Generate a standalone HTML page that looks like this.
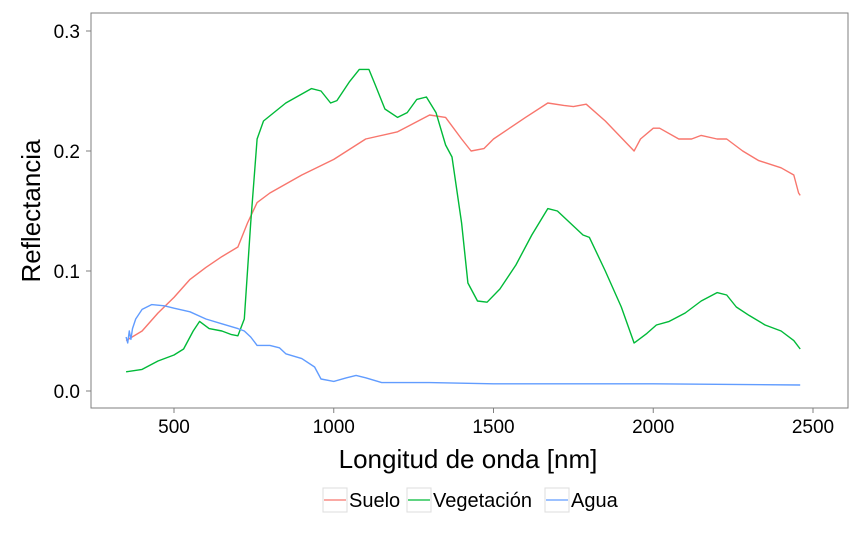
<!DOCTYPE html>
<html><head><meta charset="utf-8"><style>
body{margin:0;background:#fff;font-family:"Liberation Sans",sans-serif}
</style></head><body>
<svg id="chart" width="861" height="542" xmlns="http://www.w3.org/2000/svg" font-family="Liberation Sans, sans-serif">
<rect x="91" y="13" width="757" height="395" fill="#fff" stroke="#7f7f7f" stroke-width="1"/>
<g id="axes"></g>
<g id="series"></g>
<text x="468" y="468" font-size="26" text-anchor="middle">Longitud de onda [nm]</text>
<text transform="translate(40,211) rotate(-90)" font-size="26" text-anchor="middle">Reflectancia</text>
<g>
<g><rect x="323" y="488" width="24" height="24" fill="#fff" stroke="#ddd"/><line x1="324" y1="500" x2="346" y2="500" stroke="#F8766D" stroke-width="1.2"/><text x="349" y="507" font-size="20">Suelo</text></g>
<g><rect x="407" y="488" width="24" height="24" fill="#fff" stroke="#ddd"/><line x1="408" y1="500" x2="430" y2="500" stroke="#00BA38" stroke-width="1.2"/><text x="433" y="507" font-size="20">Vegetación</text></g>
<g><rect x="545" y="488" width="24" height="24" fill="#fff" stroke="#ddd"/><line x1="546" y1="500" x2="568" y2="500" stroke="#619CFF" stroke-width="1.2"/><text x="571" y="507" font-size="20">Agua</text></g>
</g>
</svg>
<script>
const xTicks=[500,1000,1500,2000,2500];
const yTicks=[0,0.1,0.2,0.3];
const yTickLabels=["0.0","0.1","0.2","0.3"];
const sueloX=[350,400,450,500,550,600,650,700,730,760,800,900,1000,1100,1200,1300,1350,1400,1430,1470,1500,1600,1670,1720,1750,1790,1850,1940,1960,2000,2020,2080,2120,2150,2200,2230,2280,2330,2400,2440,2455,2460];
const sueloY=[0.042,0.05,0.065,0.078,0.093,0.103,0.112,0.12,0.14,0.157,0.165,0.18,0.193,0.21,0.216,0.23,0.228,0.21,0.2,0.202,0.21,0.228,0.24,0.238,0.237,0.239,0.225,0.2,0.21,0.219,0.219,0.21,0.21,0.213,0.21,0.21,0.2,0.192,0.186,0.18,0.165,0.163];
const vegX=[350,400,450,500,530,560,580,610,650,680,700,720,740,760,780,850,930,960,990,1010,1050,1080,1110,1130,1160,1200,1230,1260,1290,1320,1350,1370,1400,1420,1450,1480,1520,1570,1620,1670,1700,1740,1780,1800,1850,1900,1940,1980,2010,2050,2100,2150,2200,2230,2260,2300,2350,2400,2440,2460];
const vegY=[0.016,0.018,0.025,0.03,0.035,0.05,0.058,0.052,0.05,0.047,0.046,0.06,0.14,0.21,0.225,0.24,0.252,0.25,0.24,0.242,0.258,0.268,0.268,0.255,0.235,0.228,0.232,0.243,0.245,0.232,0.205,0.195,0.14,0.09,0.075,0.074,0.085,0.105,0.13,0.152,0.15,0.14,0.13,0.128,0.1,0.07,0.04,0.048,0.055,0.058,0.065,0.075,0.082,0.08,0.07,0.063,0.055,0.05,0.042,0.035];
const aguaX=[350,355,360,365,370,380,400,430,470,500,550,600,650,700,720,740,760,800,830,850,900,940,960,1000,1040,1070,1100,1150,1300,1500,2000,2460];
const aguaY=[0.045,0.04,0.05,0.043,0.052,0.06,0.068,0.072,0.071,0.069,0.066,0.06,0.056,0.052,0.05,0.045,0.038,0.038,0.036,0.031,0.027,0.02,0.01,0.008,0.011,0.013,0.011,0.007,0.007,0.006,0.006,0.005];
const sx=v=>174+(v-500)*0.3195;
const sy=v=>391-v*1200;
const NS="http://www.w3.org/2000/svg";
const axes=document.getElementById('axes');
xTicks.forEach(t=>{
  const l=document.createElementNS(NS,'line');
  
  
  l.setAttribute('x1',sx(t));l.setAttribute('x2',sx(t));l.setAttribute('y1',408);l.setAttribute('y2',413);l.setAttribute('stroke','#7f7f7f');
  axes.appendChild(l);
  const tx=document.createElementNS(NS,'text');
  
  
  tx.setAttribute('x',sx(t));tx.setAttribute('y',433);tx.setAttribute('font-size','19');tx.setAttribute('text-anchor','middle');
  tx.textContent=t;axes.appendChild(tx);
});
yTicks.forEach((t,i)=>{
  const l=document.createElementNS(NS,'line');
  
  
  l.setAttribute('x1',86);l.setAttribute('x2',91);l.setAttribute('y1',sy(t));l.setAttribute('y2',sy(t));l.setAttribute('stroke','#7f7f7f');
  axes.appendChild(l);
  const tx=document.createElementNS(NS,'text');
  
  
  tx.setAttribute('x',80);tx.setAttribute('y',sy(t)+7);tx.setAttribute('font-size','19');tx.setAttribute('text-anchor','end');
  tx.textContent=yTickLabels[i];axes.appendChild(tx);
});
const g=document.getElementById('series');
function draw(xs,ys,color,name){
  const p=document.createElementNS(NS,'path');
  
  
  p.setAttribute('d',xs.map((x,i)=>(i?'L':'M')+sx(x).toFixed(1)+','+sy(ys[i]).toFixed(1)).join(''));
  p.setAttribute('fill','none');p.setAttribute('stroke',color);p.setAttribute('stroke-width','1.4');p.setAttribute('stroke-linejoin','round');
  g.appendChild(p);
}
draw(sueloX,sueloY,'#F8766D','line-suelo');
draw(vegX,vegY,'#00BA38','line-vegetacion');
draw(aguaX,aguaY,'#619CFF','line-agua');
</script>
</body></html>
